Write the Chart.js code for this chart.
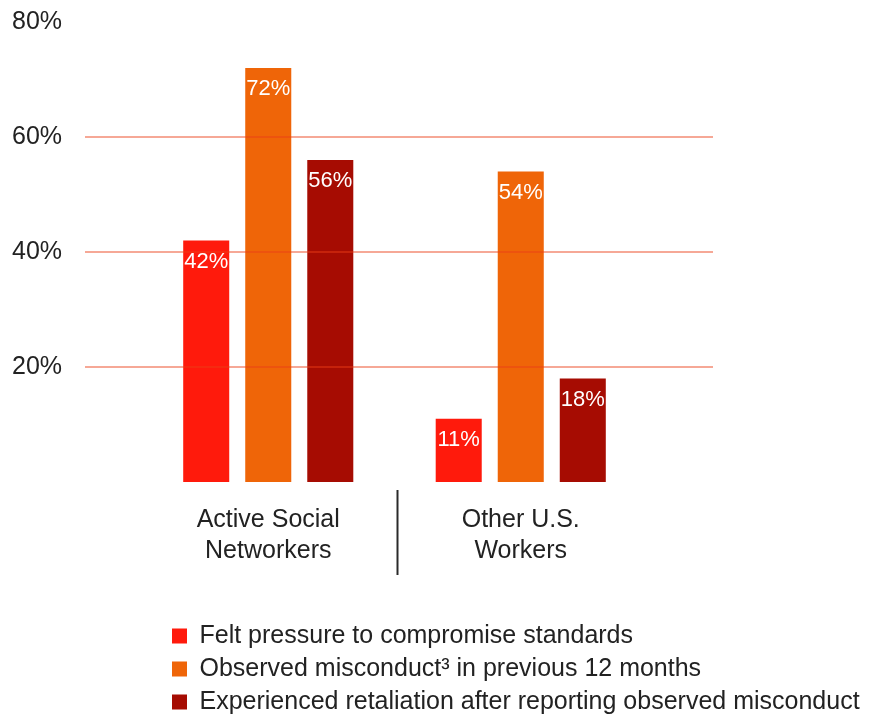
<!DOCTYPE html>
<html>
<head>
<meta charset="utf-8">
<script src="https://cdn.jsdelivr.net/npm/chart.js@4.4.1/dist/chart.umd.min.js"></script>
<style>
  html, body { margin: 0; padding: 0; background: #fff; }
  #wrap { width: 896px; height: 721px; position: relative; }
</style>
</head>
<body>
<div id="wrap"><canvas id="chart"></canvas></div>
<script>
  const categories = [['Active Social', 'Networkers'], ['Other U.S.', 'Workers']];
  const seriesNames = [
    'Felt pressure to compromise standards',
    'Observed misconduct\u00B3 in previous 12 months',
    'Experienced retaliation after reporting observed misconduct'
  ];
  const feltPressure = [42, 11];
  const observedMisconduct = [72, 54];
  const experiencedRetaliation = [56, 18];
  const yTicks = [20, 40, 60, 80];
  const gridValues = [20, 40, 60];

  const colors = ['#ff1a0c', '#ef6508', '#a60c02'];
  const FONT = '"Liberation Sans", Arial, Helvetica, sans-serif';
  const textColor = '#222';

  // salmon rules drawn over the bars, divider under the axis, and value labels
  const decor = {
    id: 'decor',
    afterLayout(chart) {
      const lg = chart.legend;
      lg.left += 22;
      lg.right = chart.width;
      lg.width = lg.right - lg.left;
      lg.top += 3.5;
      lg.bottom = chart.height;
      lg.height = lg.bottom - lg.top;
    },
    afterDatasetsDraw(chart) {
      const { ctx, scales: { x, y }, chartArea } = chart;
      ctx.save();
      ctx.lineWidth = 2;
      ctx.strokeStyle = 'rgba(236,62,22,0.45)';
      for (const v of gridValues) {
        const py = Math.round(y.getPixelForValue(v));
        ctx.beginPath();
        ctx.moveTo(85, py);
        ctx.lineTo(713, py);
        ctx.stroke();
      }

      const mid = (x.getPixelForValue(0) + x.getPixelForValue(1)) / 2 + 3;
      ctx.strokeStyle = '#2a2a2a';
      ctx.beginPath();
      ctx.moveTo(mid, chartArea.bottom + 8);
      ctx.lineTo(mid, chartArea.bottom + 93);
      ctx.stroke();

      ctx.fillStyle = '#fff';
      ctx.font = '22px ' + FONT;
      ctx.textAlign = 'center';
      ctx.textBaseline = 'middle';
      chart.data.datasets.forEach((ds, di) => {
        const meta = chart.getDatasetMeta(di);
        meta.data.forEach((bar, i) => {
          ctx.fillText(ds.data[i] + '%', bar.x, bar.y + 21);
        });
      });
      ctx.restore();
    }
  };

  new Chart(document.getElementById('chart'), {
    type: 'bar',
    data: {
      labels: categories,
      datasets: [
        { label: seriesNames[0], data: feltPressure, backgroundColor: colors[0] },
        { label: seriesNames[1], data: observedMisconduct, backgroundColor: colors[1] },
        { label: seriesNames[2], data: experiencedRetaliation, backgroundColor: colors[2] }
      ]
    },
    options: {
      responsive: true,
      maintainAspectRatio: false,
      animation: false,
      layout: { padding: { top: 22, left: 12, right: 249, bottom: 0 } },
      datasets: { bar: { categoryPercentage: 0.737, barPercentage: 0.742 } },
      scales: {
        x: {
          grid: { display: false },
          border: { display: false },
          ticks: {
            color: textColor,
            font: { family: FONT, size: 25, lineHeight: 1.24 },
            padding: 15,
            maxRotation: 0
          },
          afterFit: (axis) => { axis.height = 130; }
        },
        y: {
          min: 0,
          max: 80,
          grid: { display: false },
          border: { display: false },
          afterBuildTicks: (axis) => { axis.ticks = yTicks.map((v) => ({ value: v })); },
          ticks: {
            color: textColor,
            crossAlign: 'far',
            font: { family: FONT, size: 25 },
            callback: (v) => v + '%'
          },
          afterFit: (axis) => { axis.width = 130; }
        }
      },
      plugins: {
        tooltip: { enabled: false },
        legend: {
          position: 'bottom',
          fullSize: false,
          align: 'start',
          labels: {
            color: textColor,
            font: { family: FONT, size: 25 },
            boxWidth: 15,
            boxHeight: 15,
            padding: 8
          }
        }
      }
    },
    plugins: [decor]
  });
</script>
</body>
</html>
